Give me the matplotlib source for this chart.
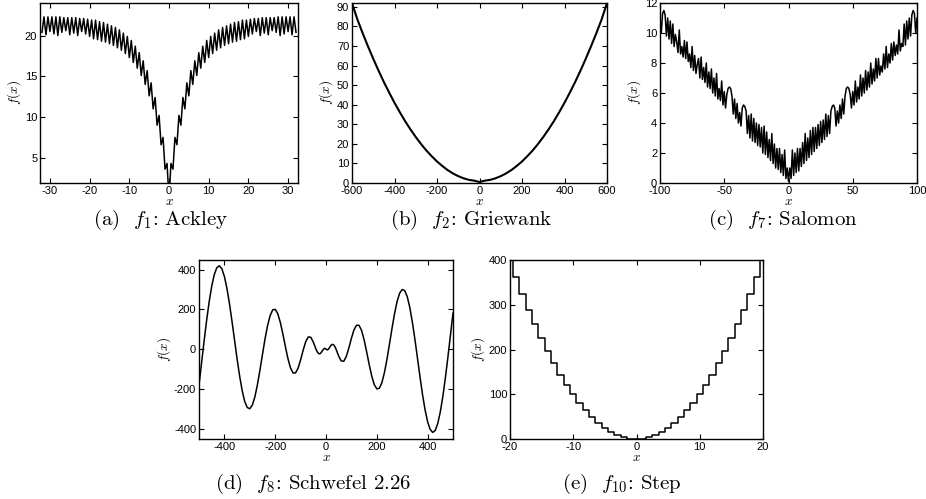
import numpy as np
import matplotlib

matplotlib.use("Agg")
import matplotlib.pyplot as plt

# Ackley: troughs at x = -32..32 (step 1), peaks at x = -31.5..31.5 (step 1)
ACKLEY_TROUGHS = [
    20.4, 20.1, 20.5, 20.2, 20.0, 20.4, 20.6, 20.1, 20.3, 20.0, 20.5, 20.2, 19.9,
    19.6, 19.5, 19.3, 19.2, 19.0, 18.8, 18.5, 18.2, 17.8, 17.3, 16.7, 16.0, 15.1,
    14.0, 12.6, 11.0, 9.0, 6.6, 3.6,
    0.0,
    3.6, 6.6, 9.0, 11.0, 12.6, 14.0, 15.1, 16.0, 16.7, 17.3, 17.8, 18.2, 18.5,
    18.8, 19.0, 19.2, 19.3, 19.5, 19.6,
    19.9, 20.2, 20.5, 20.0, 20.3, 20.1, 20.6, 20.4, 20.0, 20.2, 20.5, 20.1, 20.4,
]
ACKLEY_PEAKS = [
    22.3, 22.3, 22.3, 22.3, 22.3, 22.2, 22.2, 22.2, 22.2, 22.1, 22.1, 22.0,
    21.9, 21.9, 21.7, 21.6, 21.4, 21.2, 21.0, 20.7, 20.3, 19.9, 19.4, 18.7,
    17.9, 16.9, 15.7, 14.2, 12.4, 10.2, 7.5, 4.3,
    4.3, 7.5, 10.2, 12.4, 14.2, 15.7, 16.9, 17.9, 18.7, 19.4, 19.9, 20.3,
    20.7, 21.0, 21.2, 21.4, 21.6, 21.7, 21.9, 21.9,
    22.0, 22.1, 22.1, 22.2, 22.2, 22.2, 22.2, 22.3, 22.3, 22.3, 22.3, 22.3,
]

# Griewank, sampled every 25 from -600 to 600
GRIEWANK_Y = [
    92.0, 83.7, 76.6, 69.9, 63.5, 57.4, 51.6, 46.2, 41.0, 36.2, 31.6, 27.4,
    23.5, 19.9, 16.6, 13.7, 11.0, 8.7, 6.6, 4.9, 3.5, 2.4, 1.6, 1.2,
    0.5,
    1.2, 1.6, 2.4, 3.5, 4.9, 6.6, 8.7, 11.0, 13.7, 16.6, 19.9, 23.5,
    27.4, 31.6, 36.2, 41.0, 46.2, 51.6, 57.4, 63.5, 69.9, 76.6, 83.7, 92.0,
]

# Salomon, sampled every 1 from -100 to 100
SALOMON_Y = [
    11.0, 10.0, 11.3, 11.5, 11.2, 9.8, 11.0, 9.6, 10.8, 9.3,
    10.6, 9.1, 9.9, 9.4, 8.7, 10.2, 8.6, 9.1, 8.4, 9.5,
    8.3, 9.4, 8.1, 8.6, 7.7, 9.1, 7.5, 8.5, 7.3, 7.9,
    8.3, 7.0, 8.4, 6.9, 7.7, 6.7, 8.0, 6.4, 7.4, 6.3,
    7.6, 6.0, 7.0, 5.8, 7.3, 5.6, 6.3, 5.5, 6.8, 5.2,
    6.1, 5.0, 5.9, 6.3, 6.4, 6.3, 5.8, 4.6, 5.6, 4.3,
    5.3, 4.0, 4.7, 3.8, 5.0, 5.2, 5.1, 4.8, 3.3, 4.5,
    3.0, 4.6, 2.8, 4.3, 2.7, 4.0, 2.5, 3.9, 2.4, 3.7,
    2.0, 3.8, 1.9, 3.4, 1.7, 2.9, 1.5, 3.3, 1.3, 2.6,
    1.0, 2.3, 0.9, 2.3, 0.7, 1.9, 0.5, 2.2, 0.3, 1.0,
    0.1,
    1.0, 0.3, 2.2, 0.5, 2.0, 0.7, 2.3, 0.8, 2.3, 1.1,
    2.7, 1.3, 3.3, 1.5, 3.0, 1.7, 3.5, 1.9, 3.7, 2.1,
    3.7, 2.3, 3.9, 2.5, 4.1, 2.7, 4.2, 2.9, 4.6, 3.1,
    4.5, 3.3, 4.8, 5.1, 5.2, 5.0, 3.8, 4.8, 4.0, 5.2,
    4.3, 5.6, 4.6, 5.8, 6.3, 6.4, 6.3, 5.9, 5.0, 6.1,
    5.2, 6.8, 5.4, 6.4, 5.6, 7.2, 5.8, 7.0, 6.0, 7.5,
    6.2, 7.4, 6.4, 8.0, 6.6, 7.6, 6.8, 8.3, 7.0, 8.3,
    7.2, 7.8, 7.4, 8.6, 7.6, 9.1, 7.7, 8.6, 8.0, 9.3,
    8.2, 9.4, 8.5, 9.2, 8.6, 10.2, 8.8, 9.3, 9.1, 10.6,
    9.2, 10.8, 9.6, 11.0, 9.8, 11.2, 11.5, 11.3, 10.0, 11.0,
]

# Schwefel 2.26
SCHWEFEL_X = np.concatenate([
    np.arange(-500, -40, 10), np.arange(-40, 41, 5), np.arange(50, 501, 10)
])
SCHWEFEL_Y = [
    -180.8, -70.6, 39.6, 144.3, 237.9, 315.9, 374.1, 408.9, 418.9, 403.9,
    365.2, 305.1, 228.0, 139.0, 44.5, -49.3, -135.6, -208.6, -263.4, -293.7,
    -299.8, -281.4, -240.2, -178.9, -105.1, -25.8, 51.7, 118.6, 168.7, 196.9,
    200.0, 178.3, 135.2, 77.3, 13.3, -47.1, -94.0, -119.5, -119.9, -96.2,
    -54.4, -5.6, 36.9, 61.0, 59.6, 35.4,
    1.7, -12.6, -21.6, -24.0, -19.4, -10.0, -0.2, 3.9, 0.0,
    -3.9, 0.2, 10.0, 19.4, 24.0, 21.6, 12.6, -1.7,
    -35.4, -59.6, -61.0, -36.9, 5.6, 54.4, 96.2, 119.9, 119.5, 94.0,
    47.1, -13.3, -77.3, -135.2, -178.3, -200.0, -196.9, -168.7, -118.6, -51.7,
    25.8, 105.1, 178.9, 240.2, 281.4, 299.8, 293.7, 263.4, 208.6, 135.6,
    49.3, -44.5, -139.0, -228.0, -305.1, -365.2, -403.9, -418.9, -408.9, -374.1,
    -315.9, -237.9, -144.3, -39.6, 70.6, 180.8,
]

# Step, one value per integer x from -20 to 20
STEP_Y = [
    400, 361, 324, 289, 256, 225, 196, 169, 144, 121, 100, 81, 64, 49, 36, 25,
    16, 9, 4, 1, 0, 1, 4, 9, 16, 25, 36, 49, 64, 81, 100, 121, 144, 169, 196,
    225, 256, 289, 324, 361, 400,
]

CAPTIONS = [
    r"(a)  $f_1$: Ackley",
    r"(b)  $f_2$: Griewank",
    r"(c)  $f_7$: Salomon",
    r"(d)  $f_8$: Schwefel 2.26",
    r"(e)  $f_{10}$: Step",
]

plt.rcParams["mathtext.fontset"] = "cm"
plt.rcParams["axes.unicode_minus"] = False
plt.rcParams["font.family"] = ["Liberation Sans", "DejaVu Sans"]

W, H = 926, 499


def make_axes(fig, left, right, top, bottom):
    ax = fig.add_axes([left / W, 1 - bottom / H, (right - left) / W, (bottom - top) / H])
    ax.tick_params(direction="in", top=True, right=True, length=3.5, width=0.8,
                   labelsize=8, pad=2)
    for spine in ax.spines.values():
        spine.set_linewidth(1.0)
    ax.set_xlabel(r"$x$", fontsize=9.5, labelpad=0)
    ax.set_ylabel(r"$f(x)$", fontsize=9.5, labelpad=1)
    return ax


fig = plt.figure(figsize=(W / 100, H / 100), dpi=100)
line = dict(color="black", linewidth=1.1)

# (a) Ackley
ax = make_axes(fig, 40, 298, 3, 183)
ack_y = np.empty(len(ACKLEY_TROUGHS) + len(ACKLEY_PEAKS))
ack_y[0::2] = ACKLEY_TROUGHS
ack_y[1::2] = ACKLEY_PEAKS
ax.plot(np.arange(-32, 32.5, 0.5), ack_y, **line)
ax.set_xlim(-32.5, 32.5)
ax.set_ylim(1.9, 24)
ax.set_xticks([-30, -20, -10, 0, 10, 20, 30])
ax.set_yticks([5, 10, 15, 20])

# (b) Griewank
ax = make_axes(fig, 352, 607, 3, 183)
ax.plot(np.arange(-600, 601, 25), GRIEWANK_Y, color="black", linewidth=1.5)
ax.set_xlim(-600, 600)
ax.set_ylim(0, 92)
ax.set_xticks(range(-600, 601, 200))
ax.set_yticks(range(0, 91, 10))

# (c) Salomon
ax = make_axes(fig, 660, 917, 3, 183)
ax.plot(np.arange(-100, 101, 1), SALOMON_Y, **line)
ax.set_xlim(-100, 100)
ax.set_ylim(0, 12)
ax.set_xticks([-100, -50, 0, 50, 100])
ax.set_yticks(range(0, 13, 2))

# (d) Schwefel 2.26
ax = make_axes(fig, 199, 453, 260, 439)
ax.plot(SCHWEFEL_X, SCHWEFEL_Y, **line)
ax.set_xlim(-500, 500)
ax.set_ylim(-452, 448)
ax.set_xticks([-400, -200, 0, 200, 400])
ax.set_yticks([-400, -200, 0, 200, 400])

# (e) Step
ax = make_axes(fig, 510, 763, 260, 439)
ax.step(np.arange(-20, 21), STEP_Y, where="mid", **line)
ax.set_xlim(-20, 20)
ax.set_ylim(0, 400)
ax.set_xticks([-20, -10, 0, 10, 20])
ax.set_yticks(range(0, 401, 100))

caption_pos = [(161, 220), (471, 220), (783, 220), (313, 484), (622, 484)]
for text, (cx, cy) in zip(CAPTIONS, caption_pos):
    fig.text(cx / W, 1 - cy / H, text, fontsize=15, family="cmr10",
             ha="center", va="center")

fig.savefig("out.png", dpi=100)
